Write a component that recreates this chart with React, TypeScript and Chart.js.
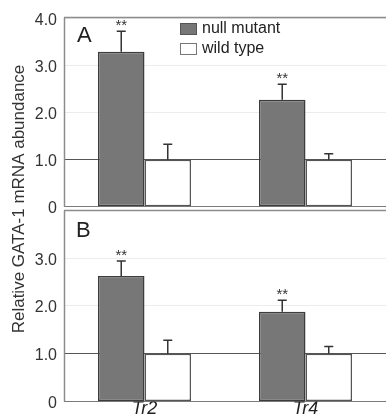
import { useEffect, useRef } from 'react';
import { Chart, registerables } from 'chart.js';

Chart.register(...registerables);

const categories = ['Tr2', 'Tr4'];
const seriesLabels = ['null mutant', 'wild type'];
const nullA = [3.3, 2.28];
const nullAErr = [0.44, 0.33];
const wildA = [1.0, 1.0];
const wildAErr = [0.33, 0.13];
const nullB = [2.63, 1.88];
const nullBErr = [0.31, 0.24];
const wildB = [1.0, 1.0];
const wildBErr = [0.28, 0.15];
const sigA = ['**', '**'];
const sigB = ['**', '**'];
const ticksA = [0, 1, 2, 3, 4];
const tickLabelsA = ['0', '1.0', '2.0', '3.0', '4.0'];
const ticksB = [0, 1, 2, 3];
const tickLabelsB = ['0', '1.0', '2.0', '3.0'];
const panelLabels = ['A', 'B'];
const yTitle = 'Relative GATA-1 mRNA abundance';

const FONT = '"Liberation Sans", Arial, Helvetica, sans-serif';
const NULL_FILL = '#777777';
const NULL_BORDER = '#3c3c3c';
const WILD_FILL = '#ffffff';
const WILD_BORDER = '#555555';
const FRAME = '#8c8c8c';

const gridColor = (ctx: any) => {
  const v = ctx.tick && ctx.tick.value;
  if (v === 0) return '#7a7a7a';
  if (v === 1) return '#555555';
  return '#ececec';
};

const decoPlugin = {
  id: 'deco',
  afterDatasetsDraw(chart: any) {
    const ctx = chart.ctx;
    const area = chart.chartArea;
    ctx.save();
    ['yA', 'yB'].forEach((id) => {
      const s = chart.scales[id];
      const top = Math.round(s.top) + 0.5;
      const zero = s.getPixelForValue(0);
      ctx.strokeStyle = FRAME;
      ctx.lineWidth = 1.5;
      ctx.beginPath();
      ctx.moveTo(area.left, top);
      ctx.lineTo(area.right, top);
      ctx.stroke();
      ctx.beginPath();
      ctx.moveTo(area.left + 0.5, top);
      ctx.lineTo(area.left + 0.5, zero);
      ctx.stroke();
    });
    chart.data.datasets.forEach((ds: any, i: number) => {
      const meta = chart.getDatasetMeta(i);
      const ys = chart.scales[meta.yAxisID];
      meta.data.forEach((bar: any, j: number) => {
        const v = ds.data[j];
        const e = ds.errors[j];
        const yTop = ys.getPixelForValue(v);
        const yErr = ys.getPixelForValue(v + e);
        const x = bar.x;
        ctx.strokeStyle = '#333333';
        ctx.lineWidth = 1.5;
        ctx.beginPath();
        ctx.moveTo(x, yTop);
        ctx.lineTo(x, yErr);
        ctx.moveTo(x - 4.5, yErr);
        ctx.lineTo(x + 4.5, yErr);
        ctx.stroke();
        if (ds.sig && ds.sig[j]) {
          ctx.fillStyle = '#333333';
          ctx.font = `15px ${FONT}`;
          ctx.textAlign = 'center';
          ctx.textBaseline = 'alphabetic';
          ctx.fillText(ds.sig[j], x, yErr - 1.5);
        }
      });
    });
    ctx.restore();
  },
  afterDraw(chart: any) {
    const ctx = chart.ctx;
    const sA = chart.scales.yA;
    const sB = chart.scales.yB;
    ctx.save();
    ctx.fillStyle = '#222222';
    ctx.font = `22px ${FONT}`;
    ctx.textAlign = 'left';
    ctx.textBaseline = 'alphabetic';
    ctx.fillText(panelLabels[0], 77, sA.top + 25);
    ctx.fillText(panelLabels[1], 76, sB.top + 27);
    const lx = 180;
    const boxes = [
      { y: 23, fill: NULL_FILL, stroke: '#555555' },
      { y: 43, fill: WILD_FILL, stroke: '#777777' },
    ];
    boxes.forEach((b, k) => {
      ctx.fillStyle = b.fill;
      ctx.fillRect(lx, b.y, 16, 11);
      ctx.strokeStyle = b.stroke;
      ctx.lineWidth = 1;
      ctx.strokeRect(lx + 0.5, b.y + 0.5, 16, 11);
      ctx.fillStyle = '#222222';
      ctx.font = `16px ${FONT}`;
      ctx.textBaseline = 'middle';
      ctx.fillText(seriesLabels[k], lx + 22, b.y + 6);
    });
    ctx.translate(19, 199);
    ctx.rotate(-Math.PI / 2);
    ctx.fillStyle = '#333333';
    ctx.font = `17px ${FONT}`;
    ctx.textAlign = 'center';
    ctx.textBaseline = 'middle';
    ctx.fillText(yTitle, 0, 0);
    ctx.restore();
  },
};

const yScale = (ticks: number[], labels: string[], min: number, max: number, weight: number) => ({
  type: 'linear',
  position: 'left',
  stack: 'panels',
  stackWeight: weight,
  stacked: false,
  min,
  max,
  afterBuildTicks: (s: any) => {
    s.ticks = ticks.map((v) => ({ value: v }));
  },
  afterFit: (s: any) => {
    s.width = 64;
  },
  grid: { color: gridColor, drawTicks: false, lineWidth: 1 },
  border: { display: false },
  ticks: {
    callback: (v: number) => labels[ticks.indexOf(v)],
    padding: 7,
    labelOffset: 2,
    color: '#333333',
    font: { family: FONT, size: 16 },
  },
});

export default function App() {
  const ref = useRef<HTMLCanvasElement | null>(null);
  useEffect(() => {
    document.body.style.margin = '0';
    if (!ref.current) return;
    const bar = { categoryPercentage: 0.578, barPercentage: 1, borderWidth: 1.5, borderSkipped: false };
    const chart = new Chart(ref.current, {
      type: 'bar',
      data: {
        labels: categories,
        datasets: [
          { label: seriesLabels[0], data: nullA, errors: nullAErr, sig: sigA, yAxisID: 'yA', stack: 'null', backgroundColor: NULL_FILL, borderColor: NULL_BORDER, ...bar },
          { label: seriesLabels[1], data: wildA, errors: wildAErr, yAxisID: 'yA', stack: 'wild', backgroundColor: WILD_FILL, borderColor: WILD_BORDER, ...bar },
          { label: seriesLabels[0], data: nullB, errors: nullBErr, sig: sigB, yAxisID: 'yB', stack: 'null', backgroundColor: NULL_FILL, borderColor: NULL_BORDER, ...bar },
          { label: seriesLabels[1], data: wildB, errors: wildBErr, yAxisID: 'yB', stack: 'wild', backgroundColor: WILD_FILL, borderColor: WILD_BORDER, ...bar },
        ] as any,
      },
      options: {
        animation: false,
        responsive: true,
        maintainAspectRatio: false,
        layout: { padding: { top: 13, left: 0, right: 0, bottom: 0 } },
        plugins: { legend: { display: false }, tooltip: { enabled: false }, title: { display: false } },
        scales: {
          x: {
            type: 'category',
            grid: { display: false, drawTicks: false },
            border: { display: false },
            ticks: { padding: 0, color: '#222222', font: { family: FONT, size: 18, style: 'italic', lineHeight: '16px' } },
          },
          yB: yScale(ticksB, tickLabelsB, 0, 4, 192.5),
          yA: yScale(ticksA, tickLabelsA, -0.08, 4.05, 195.5),
        } as any,
      },
      plugins: [decoPlugin],
    });
    return () => chart.destroy();
  }, []);
  return (
    <div style={{ width: 386, height: 418, position: 'relative' }}>
      <canvas ref={ref} />
    </div>
  );
}
